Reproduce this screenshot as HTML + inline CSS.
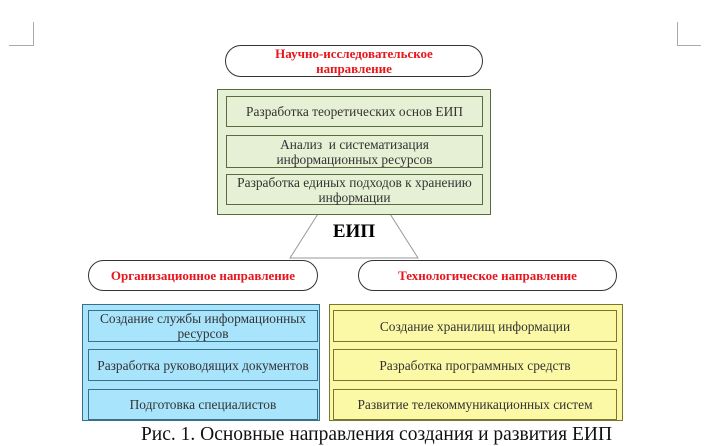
<!DOCTYPE html>
<html><head><meta charset="utf-8"><style>
body{margin:0;width:727px;height:441px;overflow:hidden;background:#fff;font-family:"Liberation Serif",serif;position:relative}
.a{position:absolute;box-sizing:border-box}
.pill{border:1.3px solid #333;border-radius:17px;background:#fff;color:#e8151b;font-weight:bold;font-size:13px;display:flex;align-items:center;justify-content:center;text-align:center;line-height:15px}
.in{display:flex;align-items:center;justify-content:center;text-align:center;font-size:13.4px;line-height:15px;color:#333}
.g{background:#e6f0d4;border:1px solid #5a6b40}
.b{background:#a8e4fb;border:1px solid #3a6f8a}
.y{background:#fbf8a6;border:1px solid #7a7530}
</style></head><body>
<div class="a" style="left:33px;top:22px;width:1px;height:24px;background:#aaa"></div>
<div class="a" style="left:9px;top:45px;width:25px;height:1px;background:#aaa"></div>
<div class="a" style="left:677px;top:22px;width:1px;height:24px;background:#aaa"></div>
<div class="a" style="left:677px;top:45px;width:24px;height:1px;background:#aaa"></div>

<svg class="a" style="left:0;top:0" width="727" height="441"><polygon points="323,206 385,206 418,258 290,258" fill="#fff" stroke="#999" stroke-width="1"/></svg>
<div class="a" style="left:290px;top:221px;width:128px;text-align:center;font-weight:bold;font-size:19px;font-family:'Liberation Serif',serif">ЕИП</div>

<div class="a pill" style="left:225px;top:45px;width:258px;height:32px">Научно-исследовательское<br>направление</div>
<div class="a g" style="left:217px;top:89px;width:274px;height:126px"></div>
<div class="a in g" style="left:226px;top:96px;width:257px;height:31px">Разработка теоретических основ ЕИП</div>
<div class="a in g" style="left:226px;top:135px;width:257px;height:33px">Анализ &nbsp;и систематизация<br>информационных ресурсов</div>
<div class="a in g" style="left:226px;top:174px;width:257px;height:31px">Разработка единых подходов к хранению<br>информации</div>

<div class="a pill" style="left:88px;top:260px;width:230px;height:31px">Организационное направление</div>
<div class="a pill" style="left:358px;top:260px;width:259px;height:31px">Технологическое направление</div>

<div class="a b" style="left:82px;top:304px;width:238px;height:117px"></div>
<div class="a in b" style="left:88px;top:310px;width:230px;height:32px">Создание службы информационных<br>ресурсов</div>
<div class="a in b" style="left:88px;top:349px;width:230px;height:32px">Разработка руководящих документов</div>
<div class="a in b" style="left:88px;top:389px;width:230px;height:31px">Подготовка специалистов</div>

<div class="a y" style="left:329px;top:304px;width:294px;height:117px"></div>
<div class="a in y" style="left:333px;top:310px;width:284px;height:32px">Создание хранилищ информации</div>
<div class="a in y" style="left:333px;top:349px;width:284px;height:32px">Разработка программных средств</div>
<div class="a in y" style="left:333px;top:389px;width:284px;height:31px">Развитие телекоммуникационных систем</div>

<div class="a" style="left:100px;top:424px;width:553px;text-align:center;font-size:19.5px;line-height:22px;color:#111;white-space:nowrap">Рис. 1. Основные направления создания и развития ЕИП</div>
</body></html>
